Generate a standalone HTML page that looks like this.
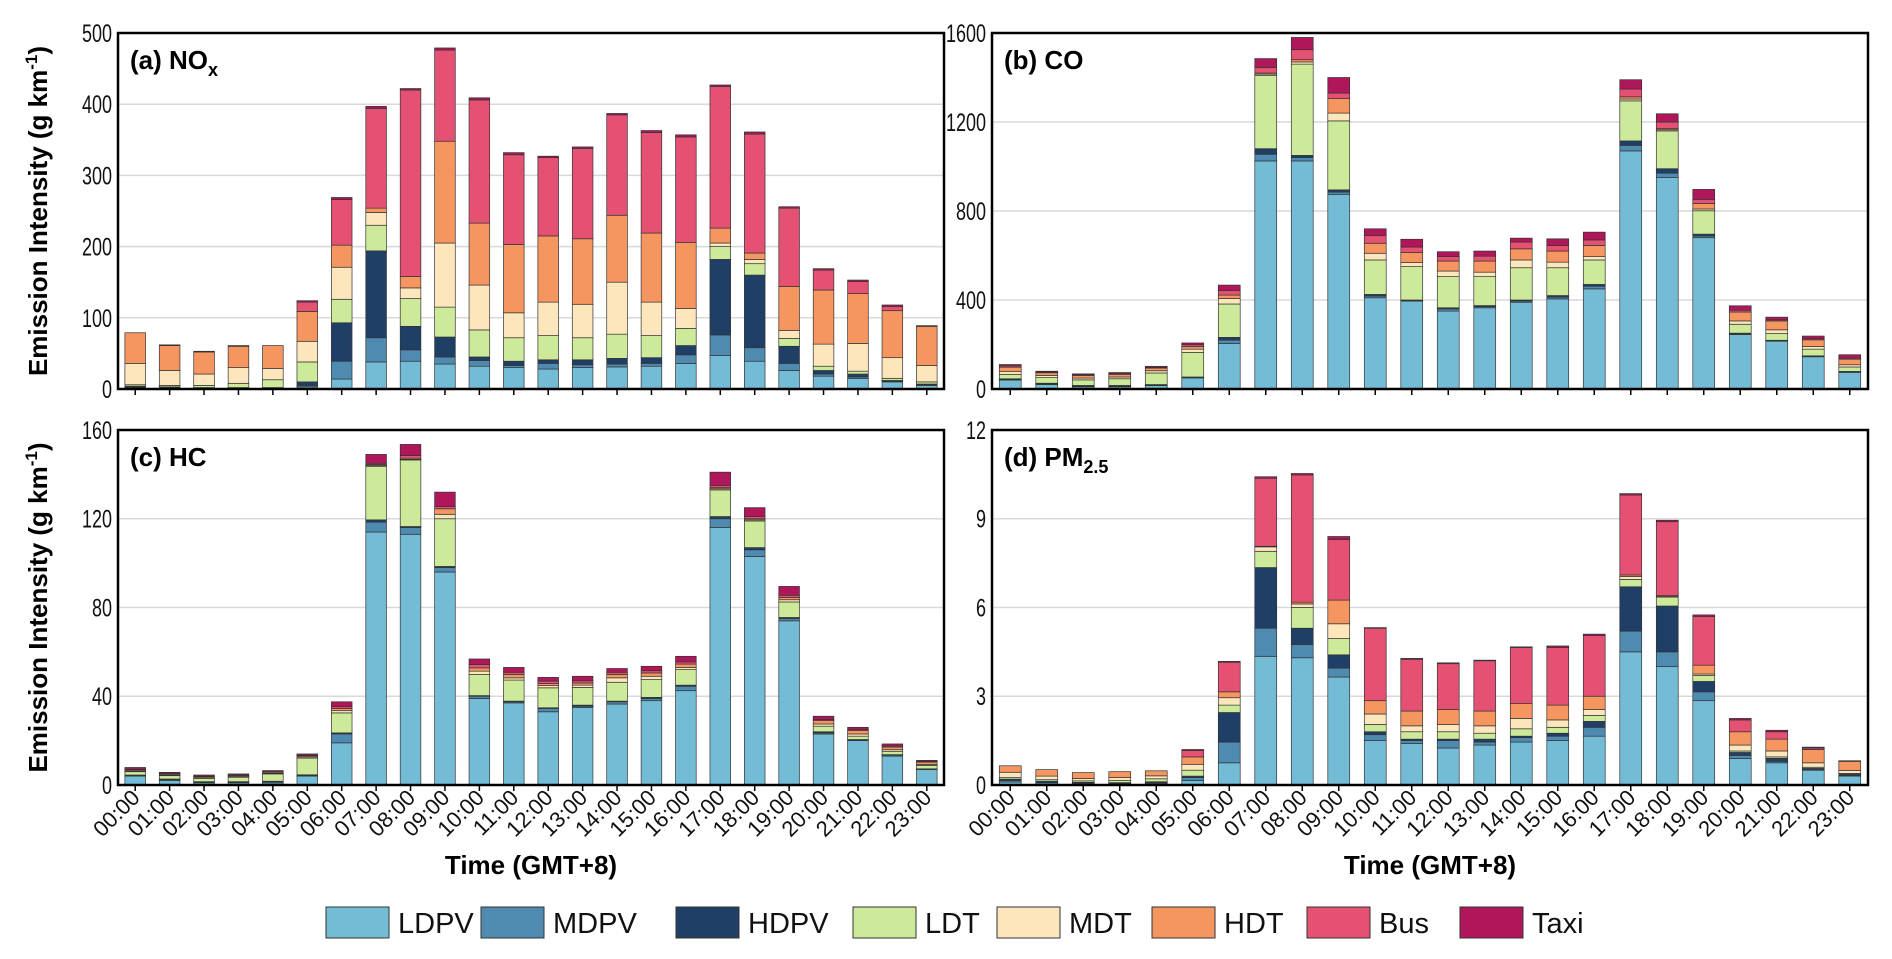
<!DOCTYPE html>
<html><head><meta charset="utf-8">
<style>
html,body{margin:0;padding:0;background:#fff;}
svg{display:block;font-family:"Liberation Sans",sans-serif;}
</style></head>
<body>
<svg id="chart" width="1892" height="959" viewBox="0 0 1892 959" xmlns="http://www.w3.org/2000/svg"></svg>
<script>
const hours = ["00:00","01:00","02:00","03:00","04:00","05:00","06:00","07:00","08:00","09:00","10:00","11:00","12:00","13:00","14:00","15:00","16:00","17:00","18:00","19:00","20:00","21:00","22:00","23:00"];
const vehicleTypes = ["LDPV","MDPV","HDPV","LDT","MDT","HDT","Bus","Taxi"];
const colors = ["#74bcd6","#4f8ab0","#1f3f66","#cdea9b","#fde5bc","#f5955f","#e45173","#b0175a"];

// NOx values per hour: [LDPV,MDPV,HDPV,LDT,MDT,HDT,Bus,Taxi]
const noxData = [
[2,1,1,2,30,43,0,0],[1,1,1,2,21,35,0,1],[1,0,1,3,16,31,0,1],[1,0,1,6,22,30,0,1],[1,0,1,11,16,32,0,0],
[3,2,5,28,29,42,13,2],[14,25,54,33,45,31,64,3],[38,34,122,36,18,6,140,3],[39,16,33,39,15,16,262,2],
[35,10,28,42,90,143,128,3],[32,8,5,38,63,87,173,3],[30,3,6,33,35,96,126,3],[28,8,5,34,47,93,110,2],
[30,4,7,31,47,92,127,2],[31,4,8,34,73,94,141,2],[32,4,8,31,47,97,141,3],[36,12,13,24,28,93,148,3],
[47,29,106,18,5,21,199,2],[39,19,102,16,6,9,167,3],[26,10,24,11,11,62,110,2],[18,3,5,6,31,76,28,2],
[15,2,4,4,39,70,17,2],[10,1,1,3,29,66,6,2],[5,1,1,3,23,55,0,1]];
const coData = [
[40,3,3,20,12,20,6,6],[20,3,3,25,10,12,3,4],[10,3,3,25,8,12,3,4],[10,3,3,30,8,12,3,5],[15,3,2,52,10,12,3,5],
[50,2,2,110,15,12,8,8],[205,15,12,150,25,15,20,25],[1025,30,25,330,5,5,25,40],[1025,15,10,410,10,10,45,55],
[875,10,10,310,35,65,25,70],[410,8,7,155,30,45,35,30],[395,3,2,150,18,45,25,35],[350,10,5,140,25,45,20,22],
[365,5,5,130,20,50,22,23],[390,5,5,145,35,50,30,18],[405,8,7,125,25,50,25,30],[450,12,8,110,15,50,25,35],
[1070,25,20,180,8,10,35,42],[950,20,20,170,5,5,30,37],[680,8,8,105,8,25,18,45],[245,3,3,40,15,40,8,20],
[215,2,2,30,17,40,5,12],[145,2,2,30,12,30,5,12],[75,2,2,20,10,25,5,15]];
const hcData = [
[4,0.3,0.2,1.5,0.3,0.5,0.3,0.8],[2,0.5,0.2,1.5,0.3,0.5,0.2,0.5],[1,0.3,0.2,1.5,0.3,0.5,0.2,0.5],[1,0.3,0.2,2,0.3,0.5,0.2,0.5],[1,0.5,0.2,3.3,0.3,0.5,0.2,0.5],
[4,0.3,0.3,7.5,0.5,0.5,0.3,0.6],[19,4,0.5,9,1,1,0.8,2.2],[114,4.5,1,24,0.5,0.5,0.5,4],[113,3,0.5,30,0.3,0.5,1.2,5],
[96,2,0.5,21.5,2,2.5,1,6.5],[39,1,0.3,9.5,1.5,1.5,1.5,2.5],[37,0.5,0.3,9.5,1,1.5,1,2.2],[33,1.5,0.3,9,1,1,1,1.7],
[35,0.5,0.5,8,1,1,1,2],[36.5,1,0.3,8.5,2,1.5,1,1.7],[38,1,0.5,8,1.5,1.5,1,2],[42.5,2,0.5,7,1,1.5,1,2.5],
[116,4,1,12,0.5,0.5,1,6],[103,3,1,12,0.5,0.5,1,4],[74,1,0.5,7,1,1,1,4],[23,0.5,0.5,2.5,1,1.5,0.5,1.5],
[20,0.3,0.2,1.5,1,1.5,0.5,1],[13,0.5,0.2,1.5,0.7,1.2,0.5,0.9],[7,0.2,0.1,1.5,0.5,1,0.3,0.5]];
const pmData = [
[0.1,0.05,0.05,0.05,0.18,0.22,0,0],[0.03,0.05,0.05,0.05,0.12,0.22,0,0],[0.03,0.03,0.03,0.05,0.08,0.2,0,0],[0.02,0.03,0.03,0.07,0.1,0.2,0,0],[0.05,0.03,0.03,0.1,0.1,0.17,0,0],
[0.15,0.1,0.05,0.2,0.2,0.25,0.22,0.03],[0.75,0.7,1.0,0.25,0.25,0.2,1.0,0.03],[4.35,0.95,2.05,0.55,0.15,0.02,2.3,0.05],[4.3,0.45,0.55,0.7,0.12,0.06,4.3,0.05],
[3.65,0.3,0.45,0.55,0.5,0.8,2.05,0.1],[1.5,0.2,0.1,0.25,0.35,0.45,2.45,0.02],[1.4,0.1,0.05,0.25,0.2,0.5,1.75,0.03],[1.25,0.25,0.05,0.25,0.25,0.5,1.55,0.03],
[1.35,0.1,0.1,0.2,0.25,0.5,1.7,0.02],[1.45,0.15,0.05,0.25,0.35,0.5,1.9,0.02],[1.5,0.15,0.1,0.2,0.25,0.5,1.95,0.05],[1.65,0.3,0.2,0.2,0.2,0.45,2.05,0.05],
[4.5,0.7,1.5,0.25,0.1,0.05,2.7,0.05],[4.0,0.5,1.55,0.3,0.02,0.03,2.5,0.05],[2.85,0.3,0.35,0.2,0.05,0.3,1.65,0.05],[0.9,0.1,0.1,0.05,0.2,0.45,0.4,0.05],
[0.75,0.05,0.1,0.05,0.2,0.4,0.25,0.05],[0.5,0.03,0.03,0.04,0.15,0.45,0.05,0.03],[0.3,0.02,0.05,0.02,0.1,0.31,0,0.02]];

const noxTicks = [0,100,200,300,400,500];
const coTicks = [0,400,800,1200,1600];
const hcTicks = [0,40,80,120,160];
const pmTicks = [0,3,6,9,12];

const NS = "http://www.w3.org/2000/svg";
const svg = document.getElementById("chart");
function mk(tag, attrs, parent){
  const e = document.createElementNS(NS, tag);
  for (const k in attrs) e.setAttribute(k, attrs[k]);
  (parent||svg).appendChild(e);
  return e;
}

const panels = [
  {id:"nox", data:noxData, ticks:noxTicks, x0:118, x1:944, y0:33, y1:389, lab:"(a) NO", sub:"x", tickX:112, ylabel:true, xlabels:false},
  {id:"co", data:coData, ticks:coTicks, x0:992, x1:1868, y0:33, y1:389, lab:"(b) CO", sub:"", tickX:986, ylabel:false, xlabels:false},
  {id:"hc", data:hcData, ticks:hcTicks, x0:118, x1:944, y0:430, y1:785, lab:"(c) HC", sub:"", tickX:112, ylabel:true, xlabels:true},
  {id:"pm", data:pmData, ticks:pmTicks, x0:992, x1:1868, y0:430, y1:785, lab:"(d) PM", sub:"2.5", tickX:986, ylabel:false, xlabels:true}
];

panels.forEach(p=>{
  const g = mk("g",{});
  
  
  const ymax = p.ticks[p.ticks.length-1];
  const yS = v => p.y1 - (v/ymax)*(p.y1-p.y0);
  const step = (p.x1-p.x0)/hours.length;
  const xS = i => p.x0 + step*(i+0.5);
  const bw = step*0.6;
  p.ticks.forEach(t=>{
    const y = yS(t);
    if (t>0 && t<ymax) {
      const gl = mk("line",{x1:p.x0,x2:p.x1,y1:y,y2:y,stroke:"#d9d9d9","stroke-width":1.5},g);
      
      
    }
    const tl = mk("text",{x:p.tickX,y:y+9,"text-anchor":"end","font-size":25,fill:"#111",transform:`translate(${p.tickX},0) scale(0.72,1) translate(${-p.tickX},0)`},g);
    tl.textContent = t;
    
    
  });
  p.data.forEach((row,i)=>{
    let cum = 0;
    row.forEach((v,k)=>{
      const yb = yS(cum), yt = yS(cum+v);
      cum += v;
      if (v<=0) return;
      const r = mk("rect",{x:xS(i)-bw/2,y:yt,width:bw,height:Math.max(0.5,yb-yt),fill:colors[k],stroke:"#333","stroke-width":0.7},g);
      
      
    });
    const tk = mk("line",{x1:xS(i),x2:xS(i),y1:p.y1,y2:p.y1+6,stroke:"#000","stroke-width":1.5},g);
    
    
    if (p.xlabels) {
      const xl = mk("text",{x:xS(i)+6,y:p.y1+14,"text-anchor":"end","font-size":22,fill:"#111",transform:`rotate(-45 ${xS(i)+6} ${p.y1+14})`},g);
      xl.textContent = hours[i];
      
      
    }
  });
  const fr = mk("rect",{x:p.x0,y:p.y0,width:p.x1-p.x0,height:p.y1-p.y0,fill:"none",stroke:"#000","stroke-width":2.5},g);
  
  
  const pl = mk("text",{x:p.x0+12,y:p.y0+36,"font-size":26,"font-weight":"bold",fill:"#000"},g);
  
  
  pl.textContent = p.lab;
  if (p.sub) {
    const ts = mk("tspan",{"font-size":18,dy:7},pl);
    ts.textContent = p.sub;
  }
  if (p.ylabel) {
    const cy = (p.y0+p.y1)/2;
    const yl = mk("text",{x:47,y:cy,"text-anchor":"middle","font-size":26,"font-weight":"bold",fill:"#000",transform:`rotate(-90 47 ${cy})`},g);
    
    
    yl.textContent = "Emission Intensity (g km";
    const s = mk("tspan",{"font-size":17,dy:-10},yl); s.textContent = "-1";
    const s2 = mk("tspan",{dy:10},yl); s2.textContent = ")";
  }
  if (p.xlabels) {
    const xt = mk("text",{x:(p.x0+p.x1)/2,y:874,"text-anchor":"middle","font-size":26,"font-weight":"bold",fill:"#000"},g);
    
    
    xt.textContent = "Time (GMT+8)";
  }
});

const legendX = [326,481,676,853,997,1152,1307,1460];
const lg = mk("g",{});


vehicleTypes.forEach((v,k)=>{
  const r = mk("rect",{x:legendX[k],y:907,width:63,height:31,fill:colors[k],stroke:"#333","stroke-width":1},lg);
  
  
  const t = mk("text",{x:legendX[k]+72,y:933,"font-size":29,fill:"#111"},lg);
  
  
  t.textContent = v;
});
</script>
</body></html>
